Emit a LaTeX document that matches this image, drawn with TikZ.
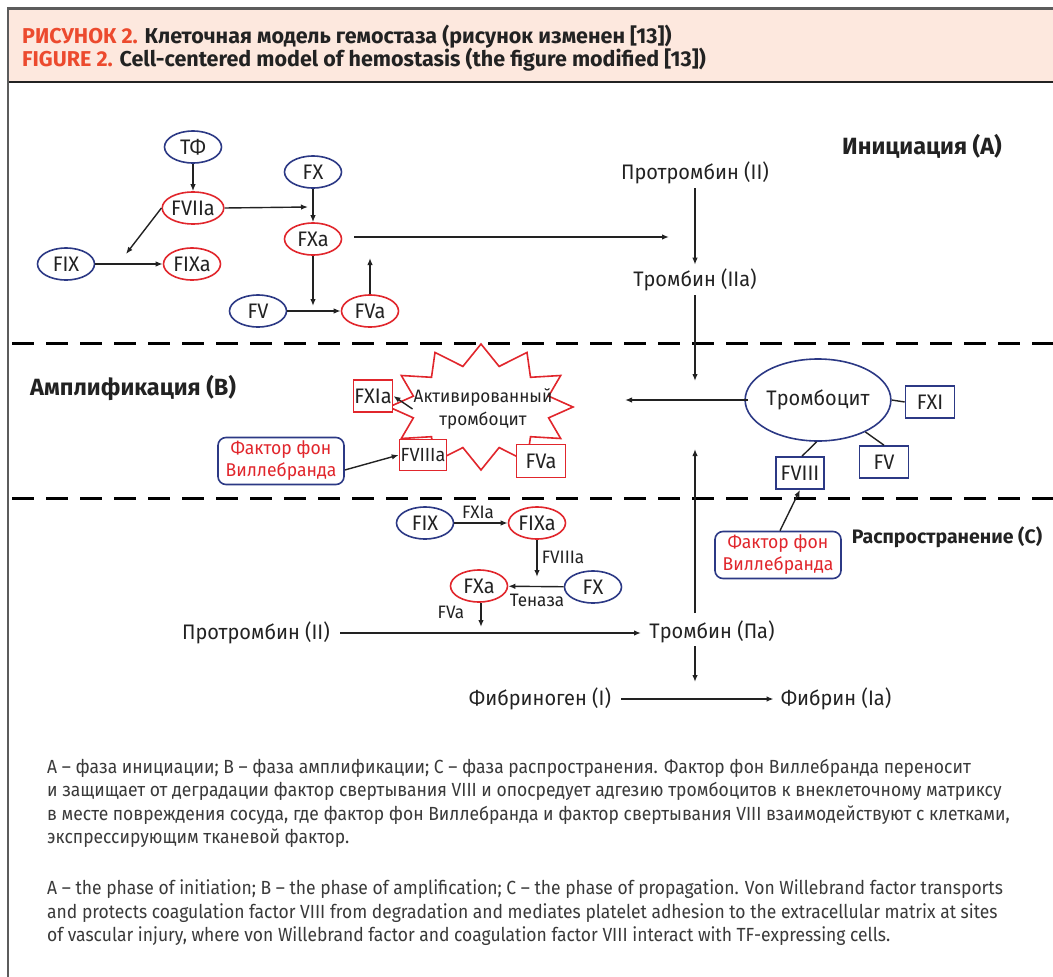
\documentclass[tikz,border=0pt]{standalone}
\usepackage{fontspec}
\setmainfont{Fira Sans}
\newfontfamily\diagfam[FakeStretch=0.95]{Fira Sans}
\newfontfamily\capfam[FakeStretch=0.92]{Fira Sans}
\usetikzlibrary{arrows.meta,shapes.geometric}

\definecolor{navy}{HTML}{2C3985}
\definecolor{cellred}{HTML}{E1262C}
\definecolor{headred}{HTML}{EC4A2E}
\definecolor{band}{HTML}{FDE8DE}
\definecolor{ink}{HTML}{222222}
\definecolor{capgrey}{HTML}{3A3A3A}
\definecolor{framegrey}{HTML}{5C5C5C}

\newcommand{\dfont}{\diagfam\fontsize{21}{23}\selectfont}
\newcommand{\sfont}{\diagfam\fontsize{18}{20}\selectfont}
\newcommand{\vfont}{\diagfam\fontsize{18.5}{22}\selectfont}
\newcommand{\hfont}{\fontsize{23.5}{26}\selectfont\bfseries}
\newcommand{\tfont}{\fontsize{21.5}{24}\selectfont\bfseries}
\newcommand{\cfont}{\capfam\fontsize{19}{22}\selectfont}

\begin{document}
\begin{tikzpicture}[x=1pt,y=-1pt,
  factor/.style={ellipse, draw, line width=1.6pt, minimum width=57pt,
    minimum height=32pt, inner sep=0pt, font=\dfont, text=ink},
  inact/.style={factor, draw=navy},
  actf/.style={factor, draw=cellred},
  fbox/.style={rectangle, draw, fill=white, line width=1.6pt, minimum height=32pt,
    inner xsep=1pt, inner ysep=0pt, font=\dfont, text=ink},
  bluebox/.style={fbox, draw=navy},
  redbox/.style={fbox, draw=cellred},
  vwf/.style={rectangle, rounded corners=8pt, draw=navy, line width=1.6pt,
    minimum width=126pt, minimum height=47pt, align=center, font=\vfont,
    text=cellred, inner sep=2pt},
  lbl/.style={font=\dfont, text=ink, inner sep=1pt},
  small/.style={font=\sfont, text=ink, inner sep=1pt},
  phase/.style={font=\hfont, text=ink, inner sep=0pt},
  arr/.style={-{Latex[length=7pt,width=5.5pt]}, line width=1.4pt, draw=ink},
  link/.style={line width=1.4pt, draw=ink},
  divider/.style={line width=3pt, dash pattern=on 22pt off 12pt, draw=black},
  capline/.style={anchor=west, font=\cfont, text=capgrey, inner sep=0pt},
]
\useasboundingbox (0,0) rectangle (1053,977);
\fill[white] (0,0) rectangle (1053,977);

% header band and frame
\fill[band] (8,9) rectangle (1053,82);
\draw[framegrey, line width=3pt] (8,8) -- (1053,8);
\draw[ink, line width=2pt] (8,82) -- (1053,82);
\draw[framegrey, line width=1.5pt] (8,7) -- (8,977);

\node[anchor=west, font=\tfont, text=ink, inner sep=0pt] (title1) at (22,37)
  {\textcolor{headred}{РИСУНОК 2.} Клеточная модель гемостаза (рисунок изменен [13])};
\node[anchor=west, font=\tfont, text=ink, inner sep=0pt] (title2) at (22,60)
  {\textcolor{headred}{FIGURE 2.} Cell-centered model of hemostasis (the figure modified [13])};

% phase dividers
\draw[divider] (12,343) -- (1053,343);
\draw[divider] (12,498) -- (1053,498);

% ---------- initiation ----------
\node[phase] (ini) at (922,146) {Инициация (A)};
\node[inact] (tf) at (193,147) {ТФ};
\node[actf] (f7a) at (193,208) {FVIIa};
\node[inact] (fx1) at (313,172) {FX};
\node[actf] (fxa1) at (313,239) {FXa};
\node[inact] (fix1) at (66,264) {FIX};
\node[actf] (fixa1) at (192,264) {FIXa};
\node[inact] (fv1) at (258,311) {FV};
\node[actf] (fva1) at (370,311) {FVa};

\coordinate (j1) at (308,207);
\coordinate (j2) at (126,254);
\coordinate (j3) at (313,306);
\coordinate (j4) at (370,258);
\coordinate (j5) at (354,237);
\coordinate (j6) at (669,237);

\draw[arr] (tf) -- (f7a);
\draw[arr] (f7a.east) -- (j1);
\draw[arr] (f7a.west) -- (j2);
\draw[arr] (fix1) -- (fixa1);
\draw[arr] (fx1) -- (fxa1);
\draw[arr] (fxa1) -- (j3);
\draw[arr] (fv1) -- (fva1);
\draw[arr] (fva1) -- (j4);
\draw[arr] (j5) -- (j6);

\node[lbl] (pro1) at (695,173) {Протромбин (II)};
\node[lbl] (thr1) at (695,280) {Тромбин (IIa)};
\coordinate (j7) at (695,381);
\draw[arr, shorten <=3pt, shorten >=3pt] (pro1) -- (thr1);
\draw[arr, shorten <=3pt] (thr1) -- (j7);

% ---------- amplification ----------
\node[phase, anchor=west] (amp) at (30,388) {Амплификация (B)};

\draw[cellred, line width=1.6pt, line join=miter]
  plot[samples at={0,15,...,345}]
  ({481+ifthenelse(mod(\x,30)==0,92,70)*cos(\x)},
   {407-ifthenelse(mod(\x,30)==0,63,42)*sin(\x)}) -- cycle;
\node[lbl, align=center, font=\diagfam\fontsize{18}{23}\selectfont] (actplt) at (483,409)
  {Активированный\\тромбоцит};

\node[redbox, minimum width=37pt] (fxia) at (373,396) {FXIa};
\node[redbox, minimum width=47pt, minimum height=31pt,
  font=\diagfam\fontsize{19}{21}\selectfont] (f8a) at (423,455) {FVIIIa};
\node[redbox, minimum width=49pt, minimum height=33pt] (fva2) at (541,461) {FVa};
\node[vwf] (vwf1) at (281,461) {Фактор фон\\Виллебранда};

\draw[arr] (actplt.west) -- (fxia.east);
\draw[arr] ([yshift=-9pt]vwf1.east) -- (f8a.west);

\node[ellipse, draw=navy, line width=1.6pt, minimum width=119pt,
  minimum height=82pt, inner sep=0pt, font=\dfont, text=ink] (plt) at (818,400) {Тромбоцит};
\node[bluebox, minimum width=49pt] (fxi) at (930,402) {FXI};
\node[bluebox, minimum width=49pt] (fv2) at (884,462) {FV};
\node[bluebox, minimum width=48pt] (f8) at (800,473) {FVIII};

\draw[link] (plt.east) -- (fxi.west);
\draw[link] (plt.-34) -- (fv2.north);
\draw[link] (plt.-92) -- ([xshift=2pt]f8.north);

\coordinate (j8) at (748,400);
\coordinate (j9) at (625,400);
\draw[arr] (j8) -- (j9);

% ---------- propagation ----------
\node[phase, font=\fontsize{19.5}{22}\selectfont\bfseries] (prop) at (947,537) {Распространение (C)};
\node[vwf] (vwf2) at (778,555) {Фактор фон\\Виллебранда};
\draw[arr] ([xshift=2pt]vwf2.north) -- (f8.south);

\node[inact] (fix2) at (425,523) {FIX};
\node[actf] (fixa2) at (537,523) {FIXa};
\node[actf] (fxa2) at (479,586) {FXa};
\node[inact] (fx2) at (593,587) {FX};

\draw[arr] (fix2) -- (fixa2);
\node[small] (lxia) at (478,512) {FXIa};
\coordinate (k1) at (537,577);
\draw[arr] (fixa2) -- (k1);
\node[small] (l8a) at (563,557) {FVIIIa};
\draw[arr] (fx2) -- (fxa2);
\node[small] (ten) at (537,600) {Теназа};
\coordinate (k2) at (481,627);
\draw[arr] (fxa2.south -| k2) -- (k2);
\node[small] (l5a) at (451,612) {FVa};

\node[lbl] (pro2) at (256,633) {Протромбин (II)};
\node[lbl] (thr2) at (712,632) {Тромбин (Па)};
\coordinate (k3) at (641,633);
\draw[arr, shorten <=9pt] (pro2) -- (k3);

\coordinate (k4) at (695,613);
\coordinate (k5) at (695,449);
\draw[arr] (k4) -- (k5);

\node[lbl] (fbg) at (540,699) {Фибриноген (I)};
\node[lbl] (fbn) at (836,699) {Фибрин (Ia)};
\coordinate (k6) at (695,646);
\coordinate (k7) at (695,682);
\draw[arr] (k6) -- (k7);
\draw[arr, shorten <=9pt, shorten >=6pt] (fbg) -- (fbn);

% ---------- caption ----------
\node[capline] (c1) at (47,768) {А – фаза инициации; В – фаза амплификации; С – фаза распространения. Фактор фон Виллебранда переносит};
\node[capline] (c2) at (47,791) {и защищает от деградации фактор свертывания VIII и опосредует адгезию тромбоцитов к внеклеточному матриксу};
\node[capline] (c3) at (47,815) {в месте повреждения сосуда, где фактор фон Виллебранда и фактор свертывания VIII взаимодействуют с клетками,};
\node[capline] (c4) at (47,838) {экспрессирующим тканевой фактор.};
\node[capline] (e1) at (47,889) {A – the phase of initiation; B – the phase of amplification; C – the phase of propagation. Von Willebrand factor transports};
\node[capline] (e2) at (47,913) {and protects coagulation factor VIII from degradation and mediates platelet adhesion to the extracellular matrix at sites};
\node[capline] (e3) at (47,936) {of vascular injury, where von Willebrand factor and coagulation factor VIII interact with TF-expressing cells.};
\end{tikzpicture}
\end{document}
